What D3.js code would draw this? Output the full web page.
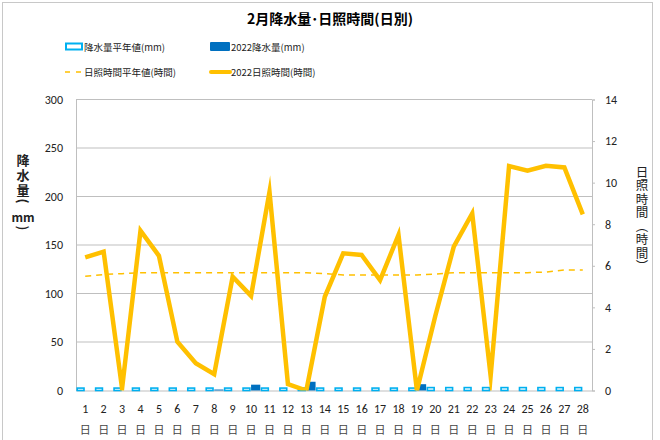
<!DOCTYPE html>
<html><head><meta charset="utf-8">
<script src="https://cdn.jsdelivr.net/npm/d3@7"></script>
<style>body{margin:0;background:#fff}svg{display:block;font-family:"Noto Sans CJK JP","Noto Sans",sans-serif}.v{writing-mode:vertical-rl}</style>
</head><body><svg id="c" width="660" height="440"></svg>
<script>
const days = d3.range(1, 29).map(String);
const precipNormal = [2.5,2.5,2.5,2.5,2.5,2.5,2.5,2.5,2.5,2.5,2.5,2.5,2.5,2.5,2.5,2.5,2.5,2.5,2.5,3,3,3,3,3,3,3,3,3];
const precip2022 = [0,0,0,0,0,0,0,1,0,6,0,0,9,0,0,0,0,0,6.5,0,0,0,0,0,0,0,0,0];
const sunNormal = [5.5,5.58,5.62,5.67,5.67,5.67,5.67,5.67,5.67,5.67,5.67,5.67,5.67,5.62,5.56,5.56,5.56,5.56,5.56,5.6,5.67,5.67,5.67,5.67,5.67,5.7,5.8,5.8];
const sun2022 = [6.4,6.68,0.1,7.69,6.48,2.35,1.31,0.78,5.47,4.55,9.56,0.31,0,4.51,6.6,6.52,5.31,7.48,0,3.6,6.92,8.52,0.7,10.8,10.57,10.81,10.73,8.47];
const leftTicks = [0,50,100,150,200,250,300];
const rightTicks = [0,2,4,6,8,10,12,14];

const svg = d3.select("#c");
const L = 76, R = 592, T = 99.5, B = 390.5;
const x = d3.scaleBand().domain(days).range([L, R]).paddingInner(0).paddingOuter(0);
const yL = d3.scaleLinear().domain([0, 300]).range([B, T]);
const yR = d3.scaleLinear().domain([0, 14]).range([B, T]);
const grid = "#BFBFBF";

svg.append("defs").append("clipPath").attr("id", "pc").append("rect")
  .attr("x", L - 10).attr("y", T - 20).attr("width", R - L + 20).attr("height", B - T + 20);

// frame
svg.append("rect").attr("x", 2.5).attr("y", 2.5).attr("width", 650).attr("height", 445).attr("fill", "none").attr("stroke", "#C8C8C8");

// title
svg.append("text").attr("x", 330).attr("y", 24).attr("text-anchor", "middle").attr("font-size", 14).attr("font-weight", "bold").attr("fill", "#000").text("2月降水量･日照時間(日別)");

// gridlines
svg.append("g").selectAll("line").data(leftTicks.slice(1)).join("line")
  .attr("x1", L).attr("x2", R).attr("y1", d => yL(d)).attr("y2", d => yL(d)).attr("stroke", grid).attr("stroke-width", 1);

// left axis
const gL = svg.append("g").attr("transform", `translate(${L},0)`).call(d3.axisLeft(yL).tickValues(leftTicks).tickSize(0).tickPadding(13));
gL.select(".domain").attr("stroke", grid);
gL.selectAll("text").attr("font-size", 12).attr("fill", "#222").attr("font-family", "Calibri,'Liberation Sans',sans-serif");

// right axis
const gR = svg.append("g").attr("transform", `translate(${R},0)`).call(d3.axisRight(yR).tickValues(rightTicks).tickSize(3).tickPadding(10));
gR.select(".domain").attr("stroke", grid);
gR.selectAll("line").attr("stroke", grid);
gR.selectAll("text").attr("font-size", 12).attr("fill", "#222").attr("font-family", "Calibri,'Liberation Sans',sans-serif");

// bottom axis
const gB = svg.append("g").attr("transform", `translate(0,${B})`).call(d3.axisBottom(x).tickSize(0).tickPadding(14));
gB.select(".domain").attr("stroke", grid);
gB.selectAll("text").attr("font-size", 12).attr("fill", "#222").attr("font-family", "Calibri,'Liberation Sans',sans-serif");
svg.append("g").selectAll("text").data(days).join("text")
  .attr("x", d => x(d) + x.bandwidth() / 2).attr("y", 434).attr("text-anchor", "middle")
  .attr("font-size", 11).attr("fill", "#444").text("日");

const half = x.bandwidth() / 2;
// precip normal boxes
svg.append("g").selectAll("rect").data(precipNormal).join("rect")
  .attr("x", (d, i) => x(days[i]) + 1.2).attr("width", half - 2.4)
  .attr("y", d => yL(d)).attr("height", d => B - yL(d))
  .attr("fill", "#fff").attr("stroke", "#00B0F0").attr("stroke-width", 1.6);
// precip 2022
svg.append("g").selectAll("rect").data(precip2022).join("rect")
  .attr("x", (d, i) => x(days[i]) + half).attr("width", half)
  .attr("y", d => yL(d)).attr("height", d => B - yL(d))
  .attr("fill", "#0070C0");

const line = d3.line().x((d, i) => x(days[i]) + half).y(d => yR(d));
const lines = svg.append("g").attr("clip-path", "url(#pc)");
lines.append("path").datum(sunNormal).attr("d", line).attr("fill", "none").attr("stroke", "#FFC000").attr("stroke-width", 1.5).attr("stroke-dasharray", "6,5");
lines.append("path").datum(sun2022).attr("d", line).attr("fill", "none").attr("stroke", "#FFC000").attr("stroke-width", 4.5).attr("stroke-linejoin", "miter").attr("stroke-miterlimit", 10);

// axis titles (vertical writing)
const lt = svg.append("g").attr("fill", "#222").attr("font-weight", "bold");
lt.append("text").attr("class", "v").attr("x", 23).attr("y", 153.5).attr("font-size", 13).attr("letter-spacing", 2).text("降水量(");
lt.append("text").attr("x", 23).attr("y", 216).attr("text-anchor", "middle").attr("dominant-baseline", "central").attr("font-size", 12).text("mm");
lt.append("text").attr("class", "v").attr("x", 23).attr("y", 225.5).attr("font-size", 13).text(")");
svg.append("text").attr("class", "v").attr("x", 642).attr("y", 165.5).attr("font-size", 12.5).attr("letter-spacing", 1).attr("fill", "#222").text("日照時間（時間）");

// legend
const lg = svg.append("g").attr("font-size", 9.5).attr("fill", "#222");
lg.append("rect").attr("x", 66).attr("y", 43.5).attr("width", 16).attr("height", 6).attr("fill", "#fff").attr("stroke", "#00B0F0").attr("stroke-width", 2);
lg.append("text").attr("x", 84).attr("y", 50.5).text("降水量平年値(mm)");
lg.append("rect").attr("x", 210).attr("y", 42).attr("width", 20).attr("height", 9).attr("rx", 1).attr("fill", "#0070C0");
lg.append("text").attr("x", 231).attr("y", 50.5).text("2022降水量(mm)");
lg.append("line").attr("x1", 65).attr("x2", 83).attr("y1", 72).attr("y2", 72).attr("stroke", "#FFC000").attr("stroke-width", 1.5).attr("stroke-dasharray", "5,6");
lg.append("text").attr("x", 84).attr("y", 76).text("日照時間平年値(時間)");
lg.append("line").attr("x1", 211).attr("x2", 230).attr("y1", 72).attr("y2", 72).attr("stroke", "#FFC000").attr("stroke-width", 4).attr("stroke-linecap", "round");
lg.append("text").attr("x", 231).attr("y", 76).text("2022日照時間(時間)");
</script></body></html>
